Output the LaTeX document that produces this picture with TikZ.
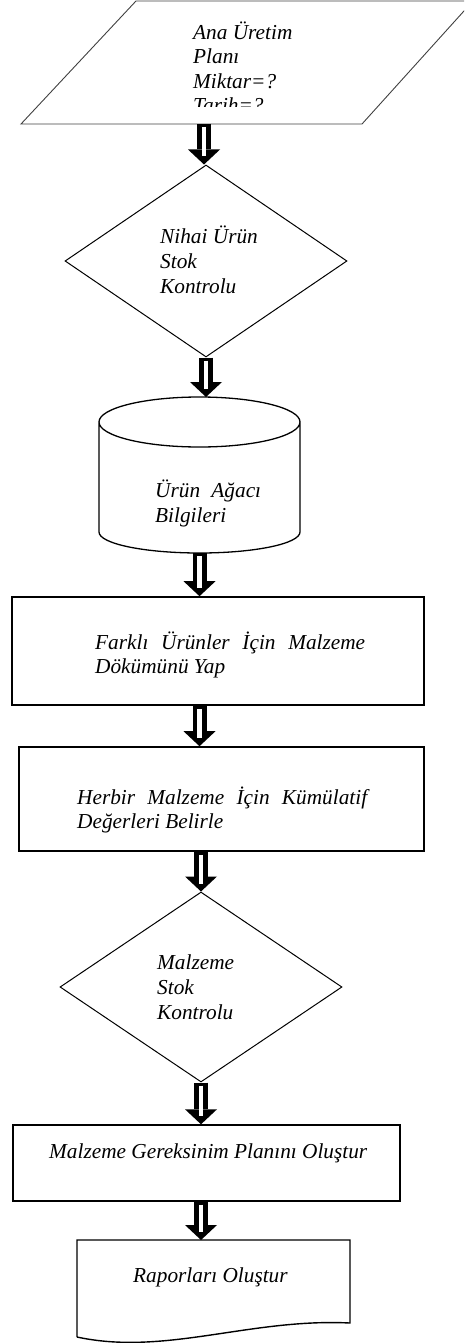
\documentclass[tikz,border=0pt]{standalone}
\usepackage{fontspec}
\setmainfont{Liberation Serif}
\usetikzlibrary{arrows.meta,shapes.geometric}
\hyphenpenalty=10000
\tolerance=9999

\begin{document}
\begin{tikzpicture}[x=1pt,y=-1pt,
    txt/.style={inner sep=0pt,anchor=base west,align=left,font=\fontsize{21.3}{24.6}\selectfont\itshape},
    jtxt/.style={txt,align=justify},
    kutu/.style={draw,rectangle,line width=1.6pt,inner sep=0pt},
    eskenar/.style={draw,diamond,line width=1pt,inner sep=0pt,minimum width=282,minimum height=192},
    okblok/.style={line width=14pt,-{Triangle[width=32pt,length=15pt,line width=0pt]},
        postaction={draw=white,line width=4.5pt,-,shorten <=3pt,shorten >=8pt}}]
\useasboundingbox (0,0) rectangle (464,1343);
\clip (0,0) rectangle (464,1343);

% ana uretim plani (metin kutusu tasiyor, altta kesiliyor)
\draw[line width=0.9pt,black!75] (21,124) -- (136,1) -- (473,1) -- (362,124) -- cycle;
\coordinate (plan) at (204,124);
\begin{scope}
  \clip (0,0) rectangle (464,107);
  \node[txt] (plantxt) at (193,113) {Ana Üretim\\Planı\\Miktar=?\\Tarih=?};
\end{scope}

% nihai urun stok kontrolu
\node[eskenar] (d1) at (206,261) {};
\node[txt] (d1txt) at (160,293) {Nihai Ürün\\Stok\\Kontrolu};
\draw[okblok] (plan) -- (plan |- d1.north);

% urun agaci
\draw[line width=1.3pt] (99,422) arc[start angle=180,end angle=-180,x radius=100.5,y radius=25]
  -- (99,532) arc[start angle=180,end angle=0,x radius=100.5,y radius=21] -- (300,422);
\coordinate (bomtop) at (199.5,397);
\coordinate (bombot) at (199.5,553);
\node[txt] (bomtxt) at (155,522) {Ürün\hspace{6pt} Ağacı\\Bilgileri};
\draw[okblok] (d1.south) -- (d1.south |- bomtop);

% malzeme dokumu
\node[kutu,minimum width=412,minimum height=108] (k1) at (218,651) {};
\node[jtxt,text width=270] (k1txt) at (95,649) {Farklı Ürünler İçin Malzeme Dökümünü Yap};
\draw[okblok] (bombot) -- (bombot |- k1.north);

% kumulatif degerler
\node[kutu,minimum width=405,minimum height=104] (k2) at (221.5,799) {};
\node[jtxt,text width=290] (k2txt) at (77,804) {Herbir Malzeme İçin Kümülatif Değerleri Belirle};
\draw[okblok] (k1.south -| bombot) -- (bombot |- k2.north);

% malzeme stok kontrolu
\node[eskenar,minimum height=190] (d2) at (201,987) {};
\node[txt] (d2txt) at (157,1019) {Malzeme\\Stok\\Kontrolu};
\draw[okblok] (k2.south -| d2.north) -- (d2.north);

% mrp
\node[kutu,line width=1.4pt,minimum width=387,minimum height=76] (k3) at (206.5,1163) {};
\node[txt] (k3txt) at (49,1158) {Malzeme Gereksinim Planını Oluştur};
\draw[okblok] (d2.south) -- (d2.south |- k3.north);

% raporlar
\draw[line width=1.4pt] (77,1337) -- (77,1240) -- (350,1240) -- (350,1323)
  .. controls (250,1318) and (165,1356) .. (77,1337);
\coordinate (raportop) at (201,1240);
\node[txt] (rapor) at (133,1282) {Raporları Oluştur};
\draw[okblok] (k3.south -| raportop) -- (raportop);
\end{tikzpicture}
\end{document}
